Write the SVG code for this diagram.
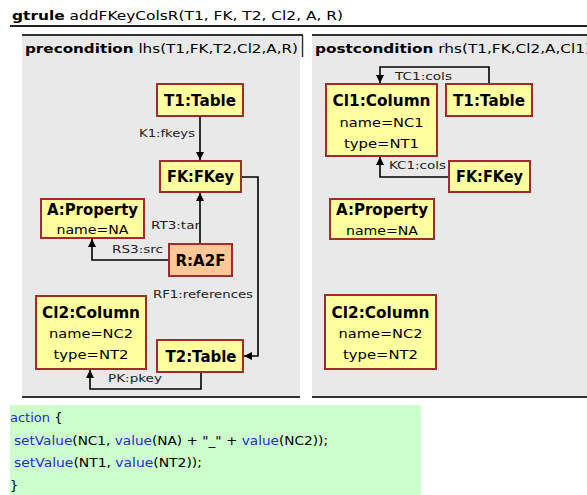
<svg xmlns="http://www.w3.org/2000/svg" width="587" height="495" viewBox="0 0 587 495">
<style>
.panel{fill:#e9e9e9}
.pline{stroke:#333;stroke-width:2}
.node{fill:#ffff9f;stroke:#a52a2a;stroke-width:2}
.rnode{fill:#ffc896;stroke:#a52a2a;stroke-width:2}
.nt{font-family:"DejaVu Sans",Verdana,sans-serif;font-weight:bold;font-size:15px;fill:#000;text-anchor:middle}
.at{font-family:"DejaVu Sans",Verdana,sans-serif;font-size:13px;fill:#000;text-anchor:middle}
.lb{font-family:"DejaVu Sans",Verdana,sans-serif;font-size:11px;fill:#222}
.hd{font-family:"DejaVu Sans",Verdana,sans-serif;font-size:13px;fill:#000}
.code{font-family:"DejaVu Sans",Verdana,sans-serif;font-size:13px;fill:#000}
.kw{fill:#2a2acc}
.edge{fill:none;stroke:#000;stroke-width:1.6}
</style>
<defs>
<marker id="arr" viewBox="0 0 10 10" refX="10" refY="5" markerWidth="8" markerHeight="8" markerUnits="userSpaceOnUse" orient="auto">
<path d="M0,0 L10,5 L0,10 z" fill="#000"/>
</marker>
</defs>
<rect width="587" height="495" fill="#fff"/>
<!-- title -->
<text x="12" y="20" class="hd" font-size="14" textLength="331" lengthAdjust="spacingAndGlyphs"><tspan font-weight="bold">gtrule</tspan> addFKeyColsR(T1, FK, T2, Cl2, A, R)</text>
<line x1="10" y1="26" x2="587" y2="26" stroke="#222" stroke-width="2"/>
<!-- panels -->
<g id="lhs">
<rect class="panel" x="22" y="34" width="278" height="364"/>
<line class="pline" x1="22" y1="35" x2="303" y2="35"/>
<line x1="302.5" y1="35" x2="302.5" y2="57" stroke="#333" stroke-width="1.5"/>
<line class="pline" x1="22" y1="397" x2="300" y2="397"/>
<text x="25" y="53" class="hd" textLength="273" lengthAdjust="spacingAndGlyphs"><tspan font-weight="bold">precondition</tspan> lhs(T1,FK,T2,Cl2,A,R)</text>
</g>
<g id="rhs">
<rect class="panel" x="312" y="34" width="275" height="364"/>
<line class="pline" x1="312" y1="35" x2="587" y2="35"/>
<line class="pline" x1="312" y1="397" x2="587" y2="397"/>
<text x="315" y="53" class="hd" textLength="276" lengthAdjust="spacingAndGlyphs"><tspan font-weight="bold">postcondition</tspan> rhs(T1,FK,Cl2,A,Cl1)</text>
</g>
<!-- connectors -->
<g id="connectors">
<path class="edge" d="M200,117 V160" marker-end="url(#arr)"/>
<text class="lb" x="139" y="137" textLength="56" lengthAdjust="spacingAndGlyphs">K1:fkeys</text>
<path class="edge" d="M200,244 V193" marker-end="url(#arr)"/>
<text class="lb" x="151" y="229" textLength="49" lengthAdjust="spacingAndGlyphs">RT3:tar</text>
<path class="edge" d="M169,260 H92 V239" marker-end="url(#arr)"/>
<text class="lb" x="112" y="253" textLength="51" lengthAdjust="spacingAndGlyphs">RS3:src</text>
<path class="edge" d="M241,177 H258 V356 H244" marker-end="url(#arr)"/>
<text class="lb" x="153" y="298" textLength="100" lengthAdjust="spacingAndGlyphs">RF1:references</text>
<path class="edge" d="M201,372 V389 H90 V370" marker-end="url(#arr)"/>
<text class="lb" x="108" y="382" textLength="54" lengthAdjust="spacingAndGlyphs">PK:pkey</text>
<path class="edge" d="M489,84 V67 H380 V83" marker-end="url(#arr)"/>
<text class="lb" x="395" y="80" textLength="57" lengthAdjust="spacingAndGlyphs">TC1:cols</text>
<path class="edge" d="M449,177 H380 V157" marker-end="url(#arr)"/>
<text class="lb" x="389" y="169" textLength="57" lengthAdjust="spacingAndGlyphs">KC1:cols</text>
</g>
<!-- lhs nodes -->
<g id="lhs_T1">
<rect class="node" x="157" y="84" width="86" height="32"/>
<text class="nt" x="200" y="106" textLength="72" lengthAdjust="spacingAndGlyphs">T1:Table</text>
</g>
<g id="lhs_FK">
<rect class="node" x="160" y="161" width="81" height="31"/>
<text class="nt" x="200.5" y="182" textLength="67" lengthAdjust="spacingAndGlyphs">FK:FKey</text>
</g>
<g id="lhs_A">
<rect class="node" x="41" y="199" width="103" height="39"/>
<text class="nt" x="92.5" y="215" textLength="91" lengthAdjust="spacingAndGlyphs">A:Property</text>
<text class="at" x="92.5" y="234" textLength="72" lengthAdjust="spacingAndGlyphs">name=NA</text>
</g>
<g id="lhs_R">
<rect class="rnode" x="169" y="244" width="63" height="32"/>
<text class="nt" x="200.5" y="266" textLength="50" lengthAdjust="spacingAndGlyphs">R:A2F</text>
</g>
<g id="lhs_Cl2">
<rect class="node" x="36" y="296" width="110" height="73"/>
<text class="nt" x="91" y="318" textLength="98" lengthAdjust="spacingAndGlyphs">Cl2:Column</text>
<text class="at" x="91" y="338" textLength="84" lengthAdjust="spacingAndGlyphs">name=NC2</text>
<text class="at" x="91" y="359" textLength="75" lengthAdjust="spacingAndGlyphs">type=NT2</text>
</g>
<g id="lhs_T2">
<rect class="node" x="157" y="340" width="86" height="32"/>
<text class="nt" x="201" y="362" textLength="71" lengthAdjust="spacingAndGlyphs">T2:Table</text>
</g>
<!-- rhs nodes -->
<g id="rhs_Cl1">
<rect class="node" x="326" y="84" width="111" height="72"/>
<text class="nt" x="381.5" y="106" textLength="98" lengthAdjust="spacingAndGlyphs">Cl1:Column</text>
<text class="at" x="381.5" y="127" textLength="84" lengthAdjust="spacingAndGlyphs">name=NC1</text>
<text class="at" x="381.5" y="148" textLength="75" lengthAdjust="spacingAndGlyphs">type=NT1</text>
</g>
<g id="rhs_T1">
<rect class="node" x="446" y="84" width="86" height="32"/>
<text class="nt" x="489" y="106" textLength="72" lengthAdjust="spacingAndGlyphs">T1:Table</text>
</g>
<g id="rhs_FK">
<rect class="node" x="449" y="161" width="81" height="31"/>
<text class="nt" x="489.5" y="182" textLength="67" lengthAdjust="spacingAndGlyphs">FK:FKey</text>
</g>
<g id="rhs_A">
<rect class="node" x="330" y="199" width="104" height="40"/>
<text class="nt" x="382" y="215" textLength="92" lengthAdjust="spacingAndGlyphs">A:Property</text>
<text class="at" x="382" y="235" textLength="72" lengthAdjust="spacingAndGlyphs">name=NA</text>
</g>
<g id="rhs_Cl2">
<rect class="node" x="325" y="295" width="111" height="74"/>
<text class="nt" x="380.5" y="318" textLength="98" lengthAdjust="spacingAndGlyphs">Cl2:Column</text>
<text class="at" x="380.5" y="338" textLength="84" lengthAdjust="spacingAndGlyphs">name=NC2</text>
<text class="at" x="380.5" y="359" textLength="75" lengthAdjust="spacingAndGlyphs">type=NT2</text>
</g>
<!-- action -->
<g id="action">
<rect x="10" y="405" width="411" height="90" fill="#ccffcc"/>
<text class="code" x="10" y="422"><tspan class="kw">action</tspan> {</text>
<text class="code" x="14" y="445" textLength="314" lengthAdjust="spacingAndGlyphs"><tspan class="kw">setValue</tspan>(NC1, <tspan class="kw">value</tspan>(NA) + "_" + <tspan class="kw">value</tspan>(NC2));</text>
<text class="code" x="14" y="467" textLength="188" lengthAdjust="spacingAndGlyphs"><tspan class="kw">setValue</tspan>(NT1, <tspan class="kw">value</tspan>(NT2));</text>
<text class="code" x="10" y="490">}</text>
</g>
</svg>
